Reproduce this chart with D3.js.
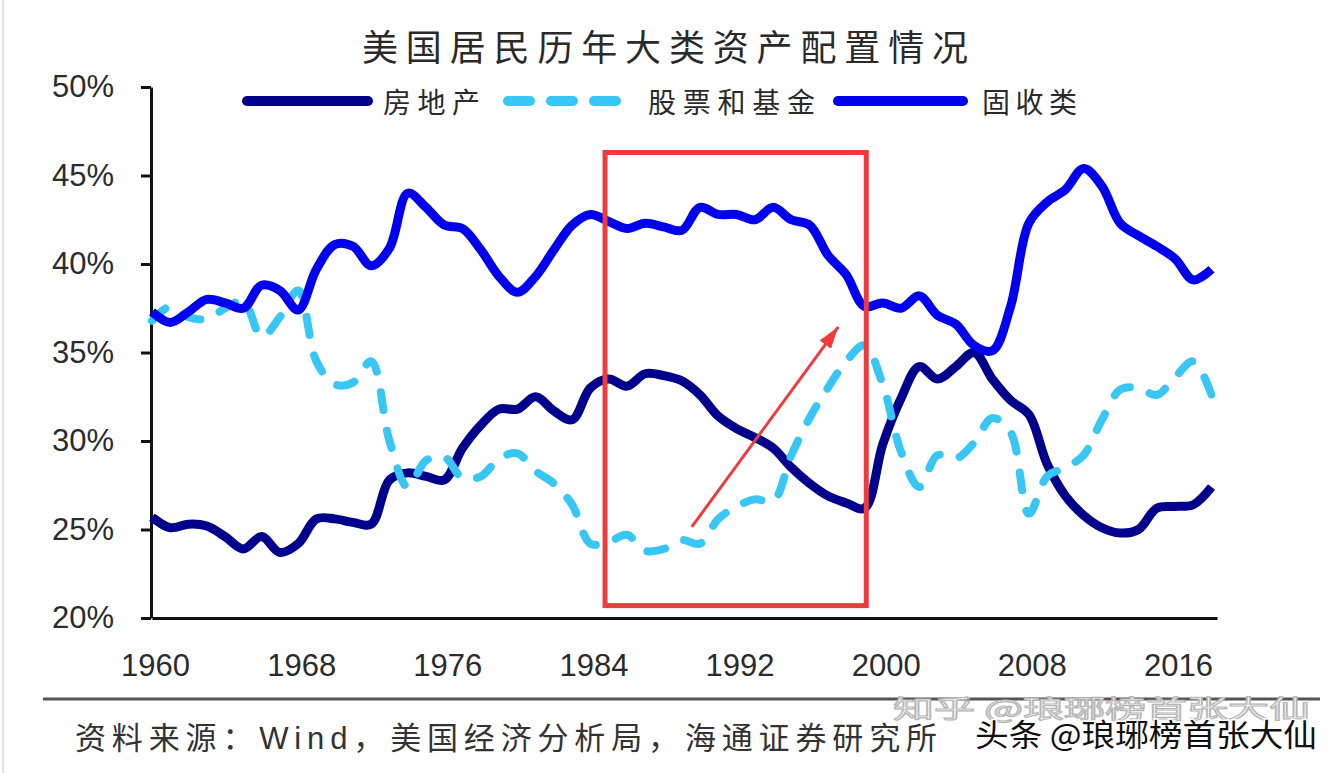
<!DOCTYPE html>
<html>
<head>
<meta charset="utf-8">
<script src="https://cdn.jsdelivr.net/npm/d3@7"></script>
<style>
  body { margin: 0; background: #fff; }
  svg { display: block; }
</style>
</head>
<body>
<script>
// Data (share of household assets, %)
const years = d3.range(1960, 2019);

const realEstate = [
  25.7, 25.1, 25.3, 25.2, 24.6, 23.9, 24.6, 23.7, 24.2, 25.6,
  25.6, 25.4, 25.3, 27.8, 28.2, 28.0, 27.8, 29.6, 30.9, 31.8,
  31.8, 32.5, 31.7, 31.2, 33.0, 33.5, 33.1, 33.8, 33.7, 33.4,
  32.6, 31.4, 30.7, 30.2, 29.6, 28.5, 27.6, 26.9, 26.5, 26.2,
  29.8, 32.4, 34.2, 33.5, 34.2, 35.0, 33.5, 32.3, 31.5, 28.7,
  26.9, 25.8, 25.1, 24.8, 25.0, 26.2, 26.3, 26.4, 27.4
];

const stocksFunds = [
  36.8, 37.6, 37.0, 36.9, 37.5, 37.9, 35.9, 37.0, 38.5, 34.5,
  33.2, 33.3, 34.5, 30.0, 27.4, 28.9, 29.1, 27.9, 28.0, 29.0,
  29.3, 28.3, 27.6, 26.4, 24.2, 24.3, 24.7, 23.8, 23.9, 24.4,
  24.2, 25.6, 26.3, 26.7, 26.6, 29.2, 31.3, 33.0, 34.5, 35.4,
  33.2, 29.4, 27.4, 29.2, 29.0, 29.9, 31.3, 30.5, 25.9, 28.0,
  28.5, 29.2, 31.2, 32.9, 33.0, 32.6, 33.6, 34.5, 32.6
];

const fixedIncome = [
  37.3, 36.7, 37.3, 38.0, 37.8, 37.5, 38.8, 38.5, 37.4, 39.7,
  41.1, 41.0, 39.9, 40.9, 44.0, 43.2, 42.2, 42.0, 40.8, 39.3,
  38.4, 39.3, 40.8, 42.2, 42.8, 42.4, 42.0, 42.3, 42.1, 41.9,
  43.2, 42.8, 42.8, 42.5, 43.2, 42.5, 42.2, 40.5, 39.4, 37.6,
  37.8, 37.5, 38.2, 37.1, 36.6, 35.4, 35.1, 37.6, 42.3, 43.5,
  44.2, 45.4, 44.4, 42.3, 41.6, 41.0, 40.3, 39.1, 39.7
];

const seriesNames = ["房地产", "股票和基金", "固收类"];
const xTicks = [1960, 1968, 1976, 1984, 1992, 2000, 2008, 2016];
const yTicks = [20, 25, 30, 35, 40, 45, 50];

// Red highlight box and arrow (in year / percent units)
const boxYears = [1984.8, 1999.1];
const boxValues = [20.7, 46.3];
const arrowYears = [1989.55, 1997.57];
const arrowValues = [25.15, 36.45];

const W = 1344, H = 773;
const cjk = "'Noto Sans CJK SC', sans-serif";
const latin = "'Liberation Sans', Arial, 'Noto Sans CJK SC', sans-serif";

const colors = ["#00008c", "#38c6f4", "#0000ee"];
const dashes = [null, "18,21", null];

const svg = d3.select("body").append("svg")
  .attr("width", W)
  .attr("height", H);

svg.append("rect").attr("width", W).attr("height", H).attr("fill", "#fff");

// faint border on the left edge of the original image
svg.append("line")
  .attr("x1", 3).attr("x2", 3).attr("y1", 0).attr("y2", H)
  .attr("stroke", "#e2e2e2").attr("stroke-width", 2);

// Scales
const x = d3.scaleLinear().domain([1960, 2018.3]).range([152, 1217]);
const y = d3.scaleLinear().domain([20, 50]).range([618, 87]);

// Title
svg.append("text")
  .attr("x", 362).attr("y", 61)
  .attr("textLength", 606).attr("lengthAdjust", "spacing")
  .attr("font-family", cjk).style("font-size", "36px")
  .attr("fill", "#2a2a2a")
  .text("美国居民历年大类资产配置情况");

// Y axis
const yAxis = svg.append("g")
  .attr("transform", `translate(${x.range()[0] - 1},0)`)
  .call(d3.axisLeft(y).tickValues(yTicks).tickSize(10).tickSizeOuter(0)
    .tickPadding(27).tickFormat(d => d + "%"));
yAxis.select(".domain").attr("stroke", "#111").attr("stroke-width", 3);
yAxis.selectAll(".tick line").attr("stroke", "#111").attr("stroke-width", 3);
yAxis.selectAll(".tick text")
  .attr("font-family", latin).style("font-size", "31px").attr("fill", "#2b2b2b");

// X axis
const xAxis = svg.append("g")
  .attr("transform", `translate(0,${y.range()[0]})`)
  .call(d3.axisBottom(x).tickValues(xTicks).tickSize(0).tickSizeOuter(0)
    .tickPadding(36).tickFormat(d3.format("d")));
xAxis.select(".domain").attr("stroke", "#111").attr("stroke-width", 3);
xAxis.selectAll(".tick text")
  .attr("font-family", latin).style("font-size", "31px").attr("fill", "#2b2b2b")
  .attr("dx", 3);

// Lines (drawn in legend order, later series on top)
const line = d3.line()
  .x((d, i) => x(years[i]))
  .y(d => y(d))
  .curve(d3.curveCatmullRom.alpha(0.5));

[realEstate, stocksFunds, fixedIncome].forEach((values, k) => {
  svg.append("path")
    .datum(values)
    .attr("fill", "none")
    .attr("stroke", colors[k])
    .attr("stroke-width", k === 1 ? 8 : 9)
    .attr("stroke-linejoin", "round")
    .attr("stroke-linecap", k === 1 ? "round" : "butt")
    .attr("stroke-dasharray", dashes[k])
    .attr("d", line);
});

// Legend
const legend = [
  { x1: 247, x2: 368, tx: 383, tl: 97 },
  { x1: 508, x2: 616, tx: 648, tl: 167 },
  { x1: 838, x2: 963, tx: 982, tl: 95 }
];
legend.forEach((g, k) => {
  svg.append("line")
    .attr("x1", g.x1).attr("x2", g.x2)
    .attr("y1", 101).attr("y2", 101)
    .attr("stroke", colors[k])
    .attr("stroke-width", 10)
    .attr("stroke-linecap", "round")
    .attr("stroke-dasharray", k === 1 ? "22,21" : null);
  svg.append("text")
    .attr("x", g.tx).attr("y", 113)
    .attr("textLength", g.tl).attr("lengthAdjust", "spacing")
    .attr("font-family", cjk).style("font-size", "28px")
    .attr("fill", "#2a2a2a")
    .text(seriesNames[k]);
});

// Red highlight box
const red = "#ef3b3b";
svg.append("rect")
  .attr("x", x(boxYears[0]))
  .attr("y", y(boxValues[1]))
  .attr("width", x(boxYears[1]) - x(boxYears[0]))
  .attr("height", y(boxValues[0]) - y(boxValues[1]))
  .attr("fill", "none")
  .attr("stroke", red)
  .attr("stroke-width", 5);

// Red arrow
svg.append("defs").append("marker")
  .attr("id", "arrowHead")
  .attr("markerUnits", "userSpaceOnUse")
  .attr("viewBox", "0 0 22 14")
  .attr("refX", 22).attr("refY", 7)
  .attr("markerWidth", 22).attr("markerHeight", 14)
  .attr("orient", "auto")
  .append("path")
  .attr("d", "M0,0 L22,7 L0,14 Z")
  .attr("fill", red);

svg.append("line")
  .attr("x1", x(arrowYears[0])).attr("y1", y(arrowValues[0]))
  .attr("x2", x(arrowYears[1])).attr("y2", y(arrowValues[1]))
  .attr("stroke", red)
  .attr("stroke-width", 3)
  .attr("marker-end", "url(#arrowHead)");

// Source note with separator line
svg.append("line")
  .attr("x1", 43).attr("x2", 1320)
  .attr("y1", 699).attr("y2", 699)
  .attr("stroke", "#555").attr("stroke-width", 3);

svg.append("text")
  .attr("x", 75).attr("y", 749)
  .attr("textLength", 862).attr("lengthAdjust", "spacing")
  .attr("font-family", latin).style("font-size", "31px")
  .attr("fill", "#333")
  .text("资料来源：Wind，美国经济分析局，海通证券研究所");

// Watermarks
svg.append("text")
  .attr("x", 893).attr("y", 718)
  .attr("textLength", 417).attr("lengthAdjust", "spacingAndGlyphs")
  .attr("font-family", cjk).style("font-size", "25px")
  .attr("fill", "#fff")
  .attr("stroke", "#b8b8b8").attr("stroke-width", 1.2)
  .text("知乎 @琅琊榜首张大仙");

svg.append("text")
  .attr("x", 975).attr("y", 746)
  .attr("textLength", 342).attr("lengthAdjust", "spacingAndGlyphs")
  .attr("font-family", cjk).style("font-size", "31px")
  .attr("fill", "#111")
  .attr("stroke", "#fff").attr("stroke-width", 3)
  .attr("paint-order", "stroke")
  .text("头条 @琅琊榜首张大仙");
</script>
</body>
</html>
